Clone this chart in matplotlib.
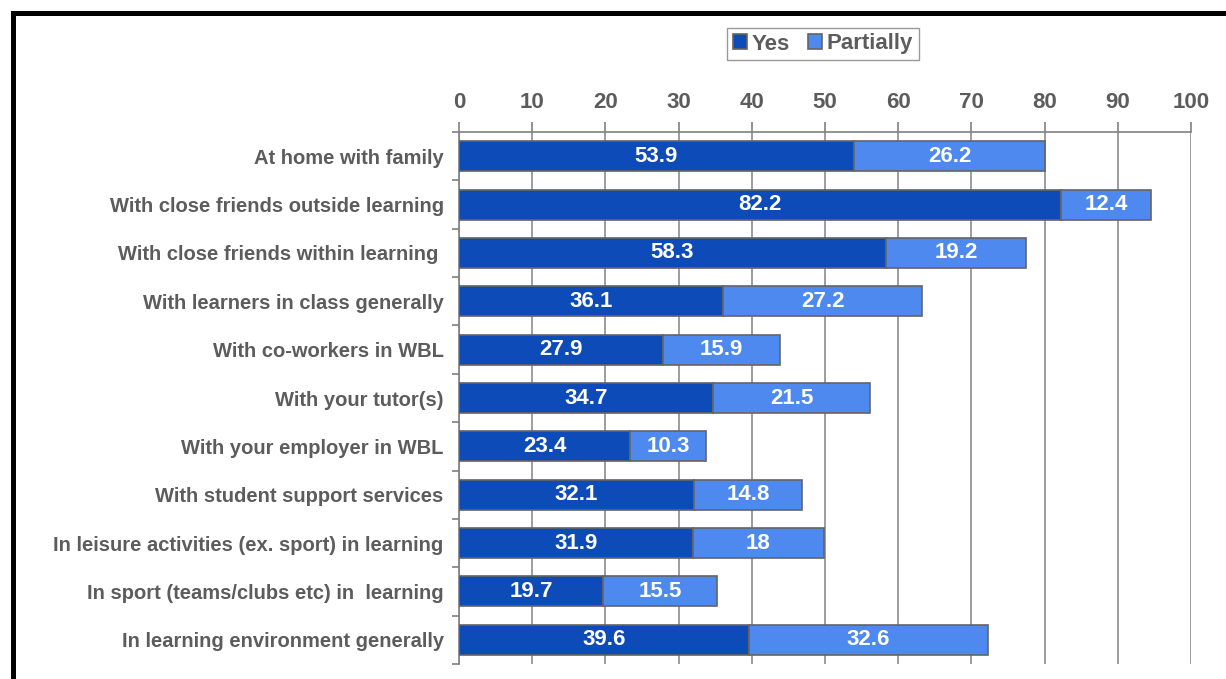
import numpy as np
import matplotlib.pyplot as plt
from matplotlib.lines import Line2D

plt.rcParams['font.family'] = ['Liberation Sans', 'DejaVu Sans']
plt.rcParams['font.weight'] = 'bold'

categories = ['At home with family',
              'With close friends outside learning',
              'With close friends within learning ',
              'With learners in class generally',
              'With co-workers in WBL',
              'With your tutor(s)',
              'With your employer in WBL',
              'With student support services',
              'In leisure activities (ex. sport) in learning',
              'In sport (teams/clubs etc) in  learning',
              'In learning environment generally']
yes = [53.9, 82.2, 58.3, 36.1, 27.9, 34.7, 23.4, 32.1, 31.9, 19.7, 39.6]
partially = [26.2, 12.4, 19.2, 27.2, 15.9, 21.5, 10.3, 14.8, 18, 15.5, 32.6]

dark = '#0D4BB9'
light = '#4D89EE'
grey_text = '#5C5C5C'
edge = '#646464'

fig = plt.figure(figsize=(12.26, 6.79), dpi=100)
ax = fig.add_axes([459/1226, 1 - 664/679, (1191 - 459)/1226, (664 - 132)/679])

y = np.arange(len(categories))
b1 = ax.barh(y, yes, height=0.62, color=dark, edgecolor=edge, linewidth=1.2,
             label='Yes', zorder=3)
b2 = ax.barh(y, partially, left=yes, height=0.62, color=light, edgecolor=edge,
             linewidth=1.2, label='Partially', zorder=3)

for bars, vals in ((b1, yes), (b2, partially)):
    for bar, v in zip(bars, vals):
        ax.text(bar.get_x() + bar.get_width() / 2, bar.get_y() + bar.get_height() / 2,
                f'{v:g}', ha='center', va='center', color='white',
                fontsize=16, fontweight='bold', zorder=4)

ax.set_xlim(0, 100)
ax.set_ylim(len(categories) - 0.5, -0.5)
ax.xaxis.tick_top()
ax.set_xticks(np.arange(0, 101, 10))
ax.tick_params(axis='x', which='major', length=7, width=1.2, color='#808080',
               labelsize=16, labelcolor=grey_text, pad=6.5)
ax.grid(axis='x', color='#8C8C8C', linewidth=1.2, zorder=0)

ax.set_yticks(y)
ax.set_yticklabels(categories)
ax.set_yticks(np.arange(-0.5, len(categories)), minor=True)
ax.tick_params(axis='y', which='major', length=0, labelsize=14.5,
               labelcolor=grey_text, pad=11)
ax.tick_params(axis='y', which='minor', length=5, width=1.2, color='#808080')

for s in ('right', 'bottom'):
    ax.spines[s].set_visible(False)
for s in ('top', 'left'):
    ax.spines[s].set_color('#808080')
    ax.spines[s].set_linewidth(1.2)

leg = fig.legend(handles=[b1, b2], labels=['Yes', 'Partially'], loc='center',
                 bbox_to_anchor=(823/1226, 1 - 44/679), ncol=2, frameon=True,
                 fancybox=False, edgecolor='#808080', fontsize=16,
                 handlelength=0.65, handleheight=0.65, handletextpad=0.2,
                 columnspacing=0.8, borderpad=0.25, borderaxespad=0)
for t in leg.get_texts():
    t.set_color(grey_text)

# black frame on top and left
fig.add_artist(Line2D([12.5/1226, 1], [1 - 12.5/679, 1 - 12.5/679],
                      transform=fig.transFigure, color='black', linewidth=3.6,
                      solid_capstyle='projecting'))
fig.add_artist(Line2D([12.5/1226, 12.5/1226], [0, 1 - 12.5/679],
                      transform=fig.transFigure, color='black', linewidth=3.6,
                      solid_capstyle='projecting'))

fig.savefig('out.png', dpi=100)
